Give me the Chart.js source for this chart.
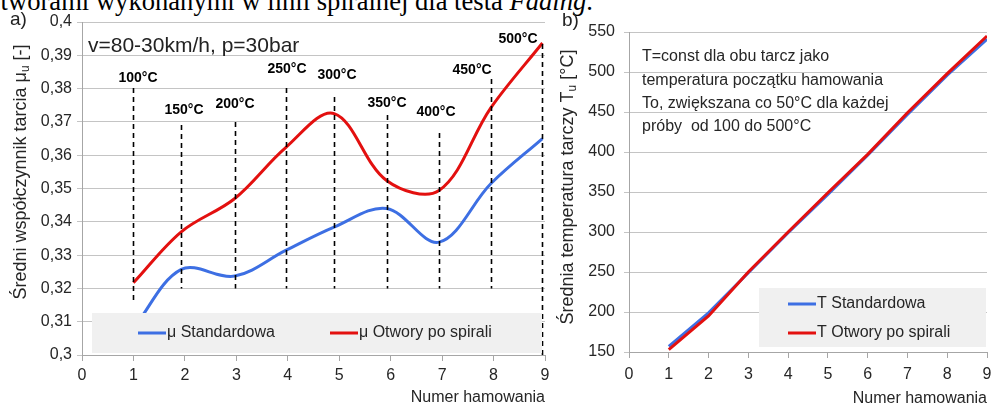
<!DOCTYPE html>
<html><head><meta charset="utf-8">
<script src="https://cdn.jsdelivr.net/npm/chart.js@4.4.1/dist/chart.umd.min.js"></script>
<style>
html,body{margin:0;padding:0;background:#fff;width:991px;height:408px;overflow:hidden;position:relative}
#cap{position:absolute;right:398px;top:-12px;font:26.6px/26px 'Liberation Serif','Times New Roman',serif;white-space:nowrap;color:#000}
#ca{position:absolute;left:0;top:0}
#cb{position:absolute;left:555px;top:0}
.lbl{position:absolute;font:19px 'Liberation Sans',Arial,sans-serif;color:#222;white-space:nowrap;line-height:20px}
</style></head><body>
<div id="cap">z otworami wykonanymi w linii spiralnej dla testa <i>Fading</i>.</div>
<canvas id="ca" width="555" height="408"></canvas>
<canvas id="cb" width="436" height="408"></canvas>
<div class="lbl" style="left:10px;top:9px">a)</div>
<div class="lbl" style="left:562px;top:10px">b)</div>
<div class="lbl" style="left:88px;top:34px;font-size:21px;line-height:22px">v=80-30km/h, p=30bar</div>
<script>
// ---- chart a) : mean friction coefficient ----
const brakeNumbers = [1, 1.93, 2.97, 3.96, 4.9, 5.92, 6.94, 7.95, 8.95];
const muStandard   = [0.308, 0.3257, 0.3237, 0.3314, 0.3384, 0.344, 0.3339, 0.3515, 0.365];
const muSpiral     = [0.3217, 0.337, 0.347, 0.3623, 0.3725, 0.3524, 0.3494, 0.3743, 0.3937];
const tempLabels   = ['100°C','150°C','200°C','250°C','300°C','350°C','400°C','450°C','500°C'];
const markerTop    = [0.3802, 0.3691, 0.370, 0.3802, 0.3775, 0.3721, 0.3667, 0.3829, 0.3934];
const markerBottom = [0.3157, 0.32, 0.32, 0.32, 0.32, 0.32, 0.32, 0.32, 0.30];
const labelX       = [1.089, 1.983, 2.974, 3.985, 4.957, 5.929, 6.882, 7.582, 8.476];
const labelY       = [0.3832, 0.3736, 0.3754, 0.3859, 0.3841, 0.3757, 0.3730, 0.3856, 0.3949];
// ---- chart b) : mean disc temperature ----
const brakeNumbersT = [1, 2, 3, 4, 5, 6, 7, 8, 9];
const tStandard     = [157, 199, 249, 299, 347, 396, 447, 496, 541];
const tSpiral       = [153, 195, 250, 300, 349, 397, 449, 498, 545];
const noteLines = ['T=const dla obu tarcz jako','temperatura początku hamowania','To, zwiększana co 50°C dla każdej','próby  od 100 do 500°C'];

const BLUE = '#3d6fe3', RED = '#e3100f';
const NARROW = "'Liberation Sans Narrow','Arial Narrow','Liberation Sans',sans-serif";
const SANS = "'Liberation Sans',Arial,sans-serif";
const TXT = '#262626';

function pts(xs, ys){ return xs.map((x,i)=>({x:x, y:ys[i]})); }

function drawVTitle(ctx, x, yc, parts){
  ctx.save();
  ctx.fillStyle = TXT;
  ctx.textBaseline = 'middle';
  ctx.textAlign = 'left';
  let total = 0;
  parts.forEach(p=>{ ctx.font = p.sub ? '12px '+SANS : '18px '+SANS; p.w = ctx.measureText(p.t).width; total += p.w; });
  ctx.translate(x, yc);
  ctx.rotate(-Math.PI/2);
  let cx = -total/2;
  parts.forEach(p=>{ ctx.font = p.sub ? '12px '+SANS : '18px '+SANS; ctx.fillText(p.t, cx, p.sub ? 5 : 0); cx += p.w; });
  ctx.restore();
}

function drawLegendBox(ctx, chart, box, items){
  ctx.save();
  ctx.fillStyle = '#f0f0f0';
  ctx.fillRect(box.x, box.y, box.w, box.h);
  ctx.font = '16px '+SANS;
  ctx.textBaseline = 'middle';
  ctx.textAlign = 'left';
  items.forEach(it=>{
    const ds = chart.data.datasets[it.ds];
    ctx.strokeStyle = ds.borderColor; ctx.lineWidth = 3;
    ctx.beginPath(); ctx.moveTo(it.x, it.y); ctx.lineTo(it.x+28, it.y); ctx.stroke();
    ctx.fillStyle = TXT;
    ctx.fillText(ds.label, it.x+29, it.y);
  });
  ctx.restore();
}

const pluginA = {
  id: 'extrasA',
  afterDatasetsDraw(chart){
    const ctx = chart.ctx, xs = chart.scales.x, ys = chart.scales.y;
    ctx.save();
    ctx.strokeStyle = '#000'; ctx.lineWidth = 1.6; ctx.setLineDash([5,4]);
    brakeNumbers.forEach((bx,i)=>{
      const px = Math.round(xs.getPixelForValue(bx))+0.5;
      ctx.beginPath();
      ctx.moveTo(px, ys.getPixelForValue(markerTop[i]));
      ctx.lineTo(px, ys.getPixelForValue(markerBottom[i]));
      ctx.stroke();
    });
    ctx.setLineDash([]);
    ctx.fillStyle = '#000'; ctx.font = 'bold 14px '+SANS; ctx.textAlign='center'; ctx.textBaseline='middle';
    tempLabels.forEach((t,i)=>{ ctx.fillText(t, xs.getPixelForValue(labelX[i]), ys.getPixelForValue(labelY[i])); });
    ctx.restore();
    drawLegendBox(ctx, chart, {x:92, y:313, w:450, h:40}, [{ds:0, x:138, y:333},{ds:1, x:330, y:333}]);
  },
  afterDraw(chart){
    drawVTitle(chart.ctx, 21, 172, [{t:'Średni współczynnik tarcia μ'},{t:'u',sub:true},{t:' [-]'}]);
  }
};

const pluginB = {
  id: 'extrasB',
  afterDatasetsDraw(chart){
    const ctx = chart.ctx;
    ctx.save();
    ctx.fillStyle = TXT; ctx.font = '16px '+SANS; ctx.textAlign='left'; ctx.textBaseline='middle';
    noteLines.forEach((l,i)=>ctx.fillText(l, 87, 57 + i*23.3));
    ctx.restore();
    drawLegendBox(ctx, chart, {x:204, y:288, w:227, h:59}, [{ds:0, x:233, y:304},{ds:1, x:233, y:333}]);
  },
  afterDraw(chart){
    drawVTitle(chart.ctx, 13, 187, [{t:'Średnia temperatura tarczy T'},{t:'u',sub:true},{t:' [°C]'}]);
  }
};

function axisX(titleText, tickLen, pad, titlePad, h){
  return {
    type:'linear', min:0, max:9,
    ticks:{stepSize:1, autoSkip:false, color:TXT, font:{family:NARROW, size:16}, padding:pad},
    grid:{drawOnChartArea:false, drawTicks:true, tickLength:tickLen, color:'#a6a6a6'},
    border:{display:true, color:'#a6a6a6'},
    title:{display:true, text:titleText, align:'end', color:TXT, font:{family:SANS, size:16}, padding:{top:0,bottom:titlePad}},
    afterFit(s){ s.height = h; s.paddingRight = 0; s.paddingLeft = 0; }
  };
}

new Chart(document.getElementById('ca'), {
  type:'line',
  data:{datasets:[
    {label:'μ Standardowa', data:pts(brakeNumbers, muStandard), borderColor:BLUE, borderWidth:3, tension:0.35, pointRadius:0, order:1},
    {label:'μ Otwory po spirali', data:pts(brakeNumbers, muSpiral), borderColor:RED, borderWidth:3, tension:0.35, pointRadius:0, order:0}
  ]},
  options:{
    responsive:false, animation:false, devicePixelRatio:1,
    layout:{padding:{left:0, right:10, top:22, bottom:0}},
    plugins:{legend:{display:false}, tooltip:{enabled:false}},
    scales:{
      x: axisX('Numer hamowania', 6, 5, 1, 53),
      y:{
        min:0.3, max:0.4,
        ticks:{stepSize:0.01, color:TXT, font:{family:NARROW, size:16}, padding:5,
          callback:(v)=>String(Math.round(v*100)/100).replace('.',',')},
        grid:{color:'#c4c4c4', tickLength:5},
        border:{display:true, color:'#a6a6a6'},
        afterFit(s){ s.width = 82; }
      }
    }
  },
  plugins:[pluginA]
});

new Chart(document.getElementById('cb'), {
  type:'line',
  data:{datasets:[
    {label:'T Standardowa', data:pts(brakeNumbersT, tStandard), borderColor:BLUE, borderWidth:3, tension:0, pointRadius:0, order:1},
    {label:'T Otwory po spirali', data:pts(brakeNumbersT, tSpiral), borderColor:RED, borderWidth:3, tension:0, pointRadius:0, order:0}
  ]},
  options:{
    responsive:false, animation:false, devicePixelRatio:1,
    layout:{padding:{left:0, right:4, top:32, bottom:0}},
    plugins:{legend:{display:false}, tooltip:{enabled:false}},
    scales:{
      x: axisX('Numer hamowania', 6, 7, 0, 56),
      y:{
        min:150, max:550,
        ticks:{stepSize:50, color:TXT, font:{family:NARROW, size:16}, padding:9},
        grid:{color:'#c4c4c4', tickLength:5},
        border:{display:true, color:'#a6a6a6'},
        afterFit(s){ s.width = 74; }
      }
    }
  },
  plugins:[pluginB]
});
</script>
</body></html>
